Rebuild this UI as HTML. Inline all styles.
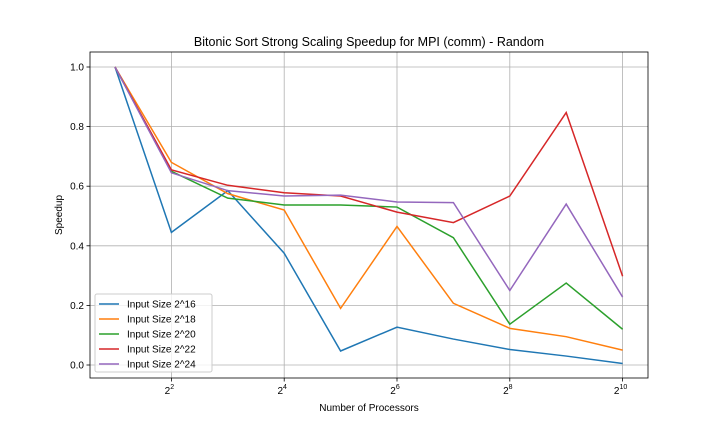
<!DOCTYPE html>
<html><head><meta charset="utf-8"><style>
body{margin:0;background:#fff;font-family:"Liberation Sans","DejaVu Sans",sans-serif}
</style></head><body>
<svg id="chart" width="720" height="432" xmlns="http://www.w3.org/2000/svg">
<rect width="720" height="432" fill="#fff"/>
<text x="369" y="46" text-anchor="middle" font-size="12.5">Bitonic Sort Strong Scaling Speedup for MPI (comm) - Random</text>
<g id="grid"></g><g id="series"></g><g id="axes"></g>
<text x="369" y="411" text-anchor="middle" font-size="10">Number of Processors</text>
<text x="0" y="0" transform="translate(62,215) rotate(-90)" text-anchor="middle" font-size="10">Speedup</text>
<g id="legend"></g>
</svg>
<script>
const procs=[2,4,8,16,32,64,128,256,512,1024];
const seriesNames=["Input Size 2^16","Input Size 2^18","Input Size 2^20","Input Size 2^22","Input Size 2^24"];
const s16=[1.0,0.445,0.585,0.375,0.047,0.127,0.087,0.052,0.03,0.005];
const s18=[1.0,0.68,0.575,0.52,0.19,0.465,0.207,0.123,0.095,0.05];
const s20=[1.0,0.65,0.56,0.537,0.537,0.53,0.427,0.137,0.275,0.12];
const s22=[1.0,0.655,0.603,0.578,0.567,0.513,0.478,0.567,0.847,0.298];
const s24=[1.0,0.645,0.585,0.567,0.57,0.547,0.545,0.25,0.54,0.228];
const yTicks=[0,0.2,0.4,0.6,0.8,1.0];
const xTickExps=[2,4,6,8,10];
const colors=["#1f77b4","#ff7f0e","#2ca02c","#d62728","#9467bd"];
const L=90,R=648,T=52,B=378;
const xs=v=>115+(Math.log2(v)-1)*56.4;
const ys=v=>365-v*298;
const NS="http://www.w3.org/2000/svg";
function mk(tag,attrs,parent){const e=document.createElementNS(NS,tag);for(const k in attrs)e.setAttribute(k,attrs[k]);parent.appendChild(e);return e;}
const grid=document.getElementById('grid'),axes=document.getElementById('axes'),ser=document.getElementById('series'),leg=document.getElementById('legend');
yTicks.forEach(t=>{const y=ys(t);
const g=mk('line',{x1:L,x2:R,y1:y,y2:y,stroke:'#b0b0b0','stroke-width':0.8},grid);

mk('line',{x1:L-3.5,x2:L,y1:y,y2:y,stroke:'#000','stroke-width':0.8},axes);
const tx=mk('text',{x:L-6,y:y+3.5,'text-anchor':'end','font-size':10},axes);tx.textContent=t.toFixed(1);
});
xTickExps.forEach(e=>{const x=xs(Math.pow(2,e));
const g=mk('line',{x1:x,x2:x,y1:T,y2:B,stroke:'#b0b0b0','stroke-width':0.8},grid);

mk('line',{x1:x,x2:x,y1:B,y2:B+3.5,stroke:'#000','stroke-width':0.8},axes);
const tx=mk('text',{x:x-2,y:B+16,'text-anchor':'middle','font-size':10},axes);

tx.textContent='2';const sp=mk('tspan',{dy:-5,'font-size':7},tx);sp.textContent=e;});
const fr=mk('rect',{x:L,y:T,width:R-L,height:B-T,fill:'none',stroke:'#000','stroke-width':0.8},axes);

[s16,s18,s20,s22,s24].forEach((d,i)=>{
const p=mk('polyline',{points:d.map((v,j)=>xs(procs[j])+','+ys(v)).join(' '),fill:'none',stroke:colors[i],'stroke-width':1.5},ser);
});
const lb=mk('rect',{x:95,y:294,width:117,height:78,fill:'#fff',stroke:'#ccc',rx:2,'fill-opacity':0.8},leg);

seriesNames.forEach((n,i)=>{const y=304+i*15;
const g=mk('g',{},leg);
mk('line',{x1:99,x2:119,y1:y,y2:y,stroke:colors[i],'stroke-width':1.5},g);
const t=mk('text',{x:127,y:y+3.5,'font-size':10},g);t.textContent=n;});
</script>
</body></html>
